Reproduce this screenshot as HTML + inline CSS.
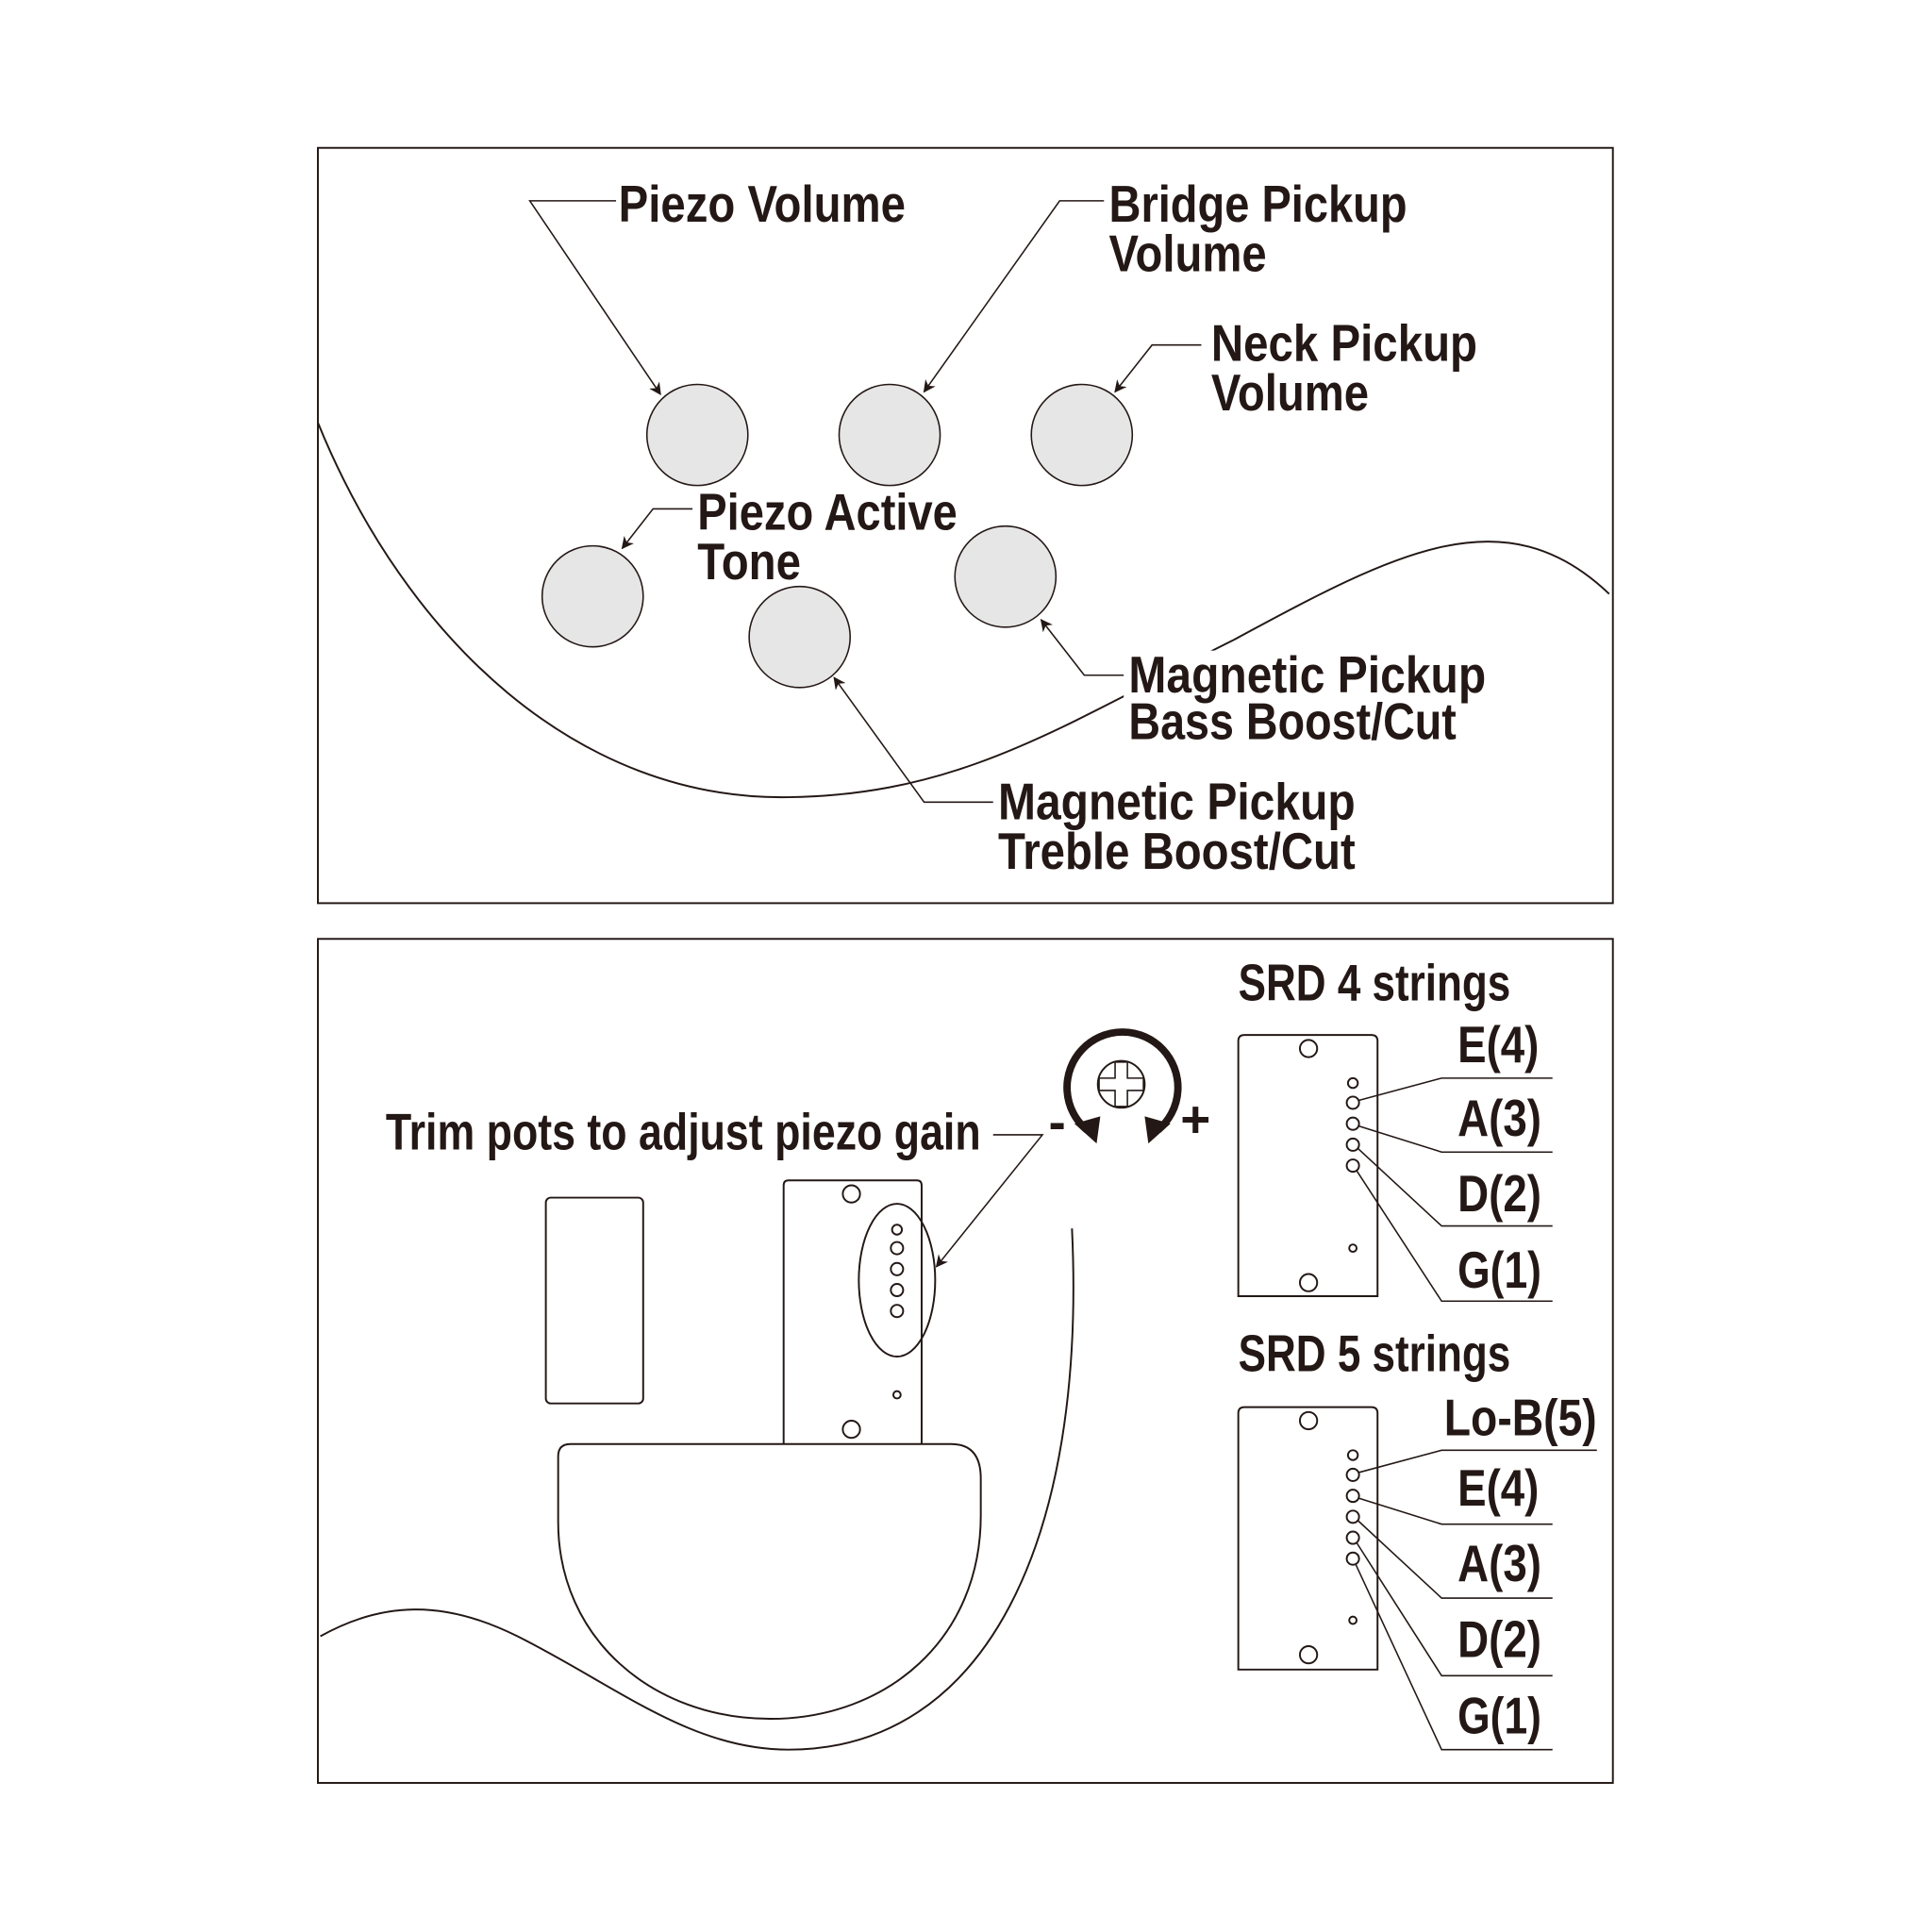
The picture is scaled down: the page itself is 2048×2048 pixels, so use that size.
<!DOCTYPE html>
<html><head><meta charset="utf-8"><style>
html,body{margin:0;padding:0;background:#fff;}
svg{display:block;}
text{font-family:"Liberation Sans Narrow","Liberation Sans",sans-serif;font-weight:bold;font-size:42px;fill:#231815;}
</style></head><body>
<svg width="2048" height="2048" viewBox="0 0 1568 1568" xmlns="http://www.w3.org/2000/svg">
<defs>
<marker id="ar" markerWidth="10" markerHeight="10" refX="9" refY="5" orient="auto" markerUnits="userSpaceOnUse"><path d="M0,0 L10,5 L0,10 L3,5 Z" fill="#231815"/></marker>
</defs>
<g fill="none" stroke="#231815" stroke-width="1.5">
<rect x="258" y="120" width="1051" height="613"/>
<rect x="258" y="762" width="1051" height="685"/>
<path d="M258,343 C330,520 470,650 640,647 C780,645 860,590 1000,520 C1130,450 1220,400 1306,482"/>
</g>
<rect x="912" y="528" width="296" height="82" fill="#fff"/>
<g fill="#e6e6e6" stroke="#231815" stroke-width="1.2">
<circle cx="566" cy="353" r="41"/><circle cx="722" cy="353" r="41"/><circle cx="878" cy="353" r="41"/>
<circle cx="481" cy="484" r="41"/><circle cx="649" cy="517" r="41"/><circle cx="816" cy="468" r="41"/>
</g>
<g fill="none" stroke="#231815" stroke-width="1.2" marker-end="url(#ar)">
<polyline points="500,163 430,163 536,320"/>
<polyline points="896,163 860,163 750,318"/>
<polyline points="975,280 935,280 905,318"/>
<polyline points="562,413 530,413 505,445"/>
<polyline points="912,548 880,548 845,503"/>
<polyline points="806,651 750,651 677,550"/>
<polyline points="806,921 846,921 760,1028"/>
</g>
<text x="502" y="180" textLength="233" lengthAdjust="spacingAndGlyphs">Piezo Volume</text>
<text x="900" y="180" textLength="242" lengthAdjust="spacingAndGlyphs">Bridge Pickup</text>
<text x="900" y="220" textLength="128" lengthAdjust="spacingAndGlyphs">Volume</text>
<text x="983" y="293" textLength="216" lengthAdjust="spacingAndGlyphs">Neck Pickup</text>
<text x="983" y="333" textLength="128" lengthAdjust="spacingAndGlyphs">Volume</text>
<text x="566" y="430" textLength="211" lengthAdjust="spacingAndGlyphs">Piezo Active</text>
<text x="566" y="470" textLength="84" lengthAdjust="spacingAndGlyphs">Tone</text>
<text x="916" y="562" textLength="290" lengthAdjust="spacingAndGlyphs">Magnetic Pickup</text>
<text x="916" y="600" textLength="266" lengthAdjust="spacingAndGlyphs">Bass Boost/Cut</text>
<text x="810" y="665" textLength="290" lengthAdjust="spacingAndGlyphs">Magnetic Pickup</text>
<text x="810" y="705" textLength="290" lengthAdjust="spacingAndGlyphs">Treble Boost/Cut</text>

<text x="313" y="933" textLength="483" lengthAdjust="spacingAndGlyphs">Trim pots to adjust piezo gain</text>
<g fill="none" stroke="#231815" stroke-width="1.5">
<rect x="443" y="972" width="79" height="167" rx="4"/>
<path d="M636,1172 L636,962 Q636,958 640,958 L744,958 Q748,958 748,962 L748,1172"/>
<circle cx="691" cy="969" r="7"/><circle cx="691" cy="1160" r="7"/>
<ellipse cx="728" cy="1039" rx="31" ry="62"/>
<circle cx="728" cy="998" r="4"/><circle cx="728" cy="1013" r="5"/><circle cx="728" cy="1030" r="5"/><circle cx="728" cy="1047" r="5"/><circle cx="728" cy="1064" r="5"/><circle cx="728" cy="1132" r="3"/>
<path d="M463,1172 L772,1172 Q796,1172 796,1200 L796,1230 C796,1330 720,1395 625,1395 C530,1395 453,1330 453,1235 L453,1182 Q453,1172 463,1172 Z" fill="#fff"/>
<path d="M260,1328 C310,1300 360,1298 420,1328 C500,1368 560,1420 640,1420 C800,1420 882,1250 870,997"/>
<circle cx="910" cy="880" r="19"/>
<path d="M905,862 L915,862 L915,875 L928,875 L928,885 L915,885 L915,898 L905,898 L905,885 L892,885 L892,875 L905,875 Z" stroke-width="1.2"/>
</g>
<path d="M882,917 A45,45 0 1 1 940,917" fill="none" stroke="#231815" stroke-width="6"/>
<path d="M872,912 L890,928 L893,906 Z" fill="#231815"/>
<path d="M950,912 L932,928 L929,906 Z" fill="#231815"/>
<text x="851" y="925" font-size="30">-</text>
<text x="958" y="923" font-size="30">+</text>

<text x="1005" y="812" textLength="221" lengthAdjust="spacingAndGlyphs">SRD 4 strings</text>
<text x="1005" y="1113" textLength="221" lengthAdjust="spacingAndGlyphs">SRD 5 strings</text>
<g fill="none" stroke="#231815" stroke-width="1.5">
<path d="M1005,1052 L1005,845 Q1005,840 1010,840 L1113,840 Q1118,840 1118,845 L1118,1052 Z"/>
<circle cx="1062" cy="851" r="7"/><circle cx="1062" cy="1041" r="7"/>
<circle cx="1098" cy="879" r="4"/><circle cx="1098" cy="895" r="5"/><circle cx="1098" cy="912" r="5"/><circle cx="1098" cy="929" r="5"/><circle cx="1098" cy="946" r="5"/><circle cx="1098" cy="1013" r="3"/>
<path d="M1005,1355 L1005,1147 Q1005,1142 1010,1142 L1113,1142 Q1118,1142 1118,1147 L1118,1355 Z"/>
<circle cx="1062" cy="1153" r="7"/><circle cx="1062" cy="1343" r="7"/>
<circle cx="1098" cy="1181" r="4"/><circle cx="1098" cy="1197" r="5"/><circle cx="1098" cy="1214" r="5"/><circle cx="1098" cy="1231" r="5"/><circle cx="1098" cy="1248" r="5"/><circle cx="1098" cy="1265" r="5"/><circle cx="1098" cy="1315" r="3"/>
</g>
<g fill="none" stroke="#231815" stroke-width="1.2">
<polyline points="1103,893 1170,875 1260,875"/>
<polyline points="1103,914 1170,935 1260,935"/>
<polyline points="1102,932 1170,995 1260,995"/>
<polyline points="1101,950 1170,1056 1260,1056"/>
<polyline points="1103,1195 1170,1177 1296,1177"/>
<polyline points="1103,1216 1170,1237 1260,1237"/>
<polyline points="1102,1234 1170,1297 1260,1297"/>
<polyline points="1101,1252 1170,1360 1260,1360"/>
<polyline points="1100,1269 1170,1420 1260,1420"/>
</g>
<text x="1183" y="862" textLength="66" lengthAdjust="spacingAndGlyphs">E(4)</text>
<text x="1183" y="922" textLength="68" lengthAdjust="spacingAndGlyphs">A(3)</text>
<text x="1183" y="983" textLength="68" lengthAdjust="spacingAndGlyphs">D(2)</text>
<text x="1183" y="1045" textLength="68" lengthAdjust="spacingAndGlyphs">G(1)</text>
<text x="1172" y="1165" textLength="124" lengthAdjust="spacingAndGlyphs">Lo-B(5)</text>
<text x="1183" y="1222" textLength="66" lengthAdjust="spacingAndGlyphs">E(4)</text>
<text x="1183" y="1283" textLength="68" lengthAdjust="spacingAndGlyphs">A(3)</text>
<text x="1183" y="1345" textLength="68" lengthAdjust="spacingAndGlyphs">D(2)</text>
<text x="1183" y="1407" textLength="68" lengthAdjust="spacingAndGlyphs">G(1)</text>
</svg>
</body></html>
